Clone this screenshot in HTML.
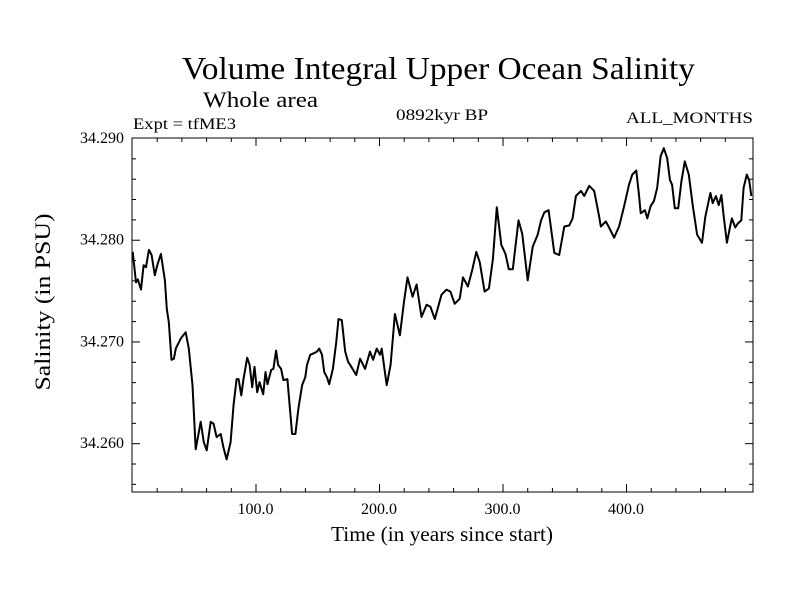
<!DOCTYPE html>
<html><head><meta charset="utf-8"><style>
html,body{margin:0;padding:0;background:#fff;}
svg{display:block;font-family:"Liberation Serif",serif;}
</style></head><body>
<svg id="chart" width="800" height="600" viewBox="0 0 800 600" xmlns="http://www.w3.org/2000/svg">
<rect x="0" y="0" width="800" height="600" fill="#fff"/>
<text x="182" y="79" font-size="32" textLength="513" lengthAdjust="spacingAndGlyphs">Volume Integral Upper Ocean Salinity</text>
<text x="203" y="107" font-size="22" textLength="115" lengthAdjust="spacingAndGlyphs">Whole area</text>
<text x="133" y="129" font-size="16" textLength="103" lengthAdjust="spacingAndGlyphs">Expt = tfME3</text>
<text x="396" y="120" font-size="16" textLength="92" lengthAdjust="spacingAndGlyphs">0892kyr BP</text>
<text x="626" y="123" font-size="16" textLength="127" lengthAdjust="spacingAndGlyphs">ALL_MONTHS</text>
<text transform="translate(50,302) rotate(-90)" text-anchor="middle" font-size="22" textLength="177" lengthAdjust="spacingAndGlyphs">Salinity (in PSU)</text>
<text x="442" y="541" text-anchor="middle" font-size="21" textLength="222" lengthAdjust="spacingAndGlyphs">Time (in years since start)</text>
<g id="axes"></g>
<path id="series" fill="none" stroke="#000" stroke-width="2" stroke-linejoin="round"/>
<rect x="132" y="138" width="621" height="354" fill="none" stroke="#000" stroke-width="1"/>
</svg>
<script>
const years = [0.6,3.2,4.8,7.3,9.4,11.3,13.7,15.9,18.5,20.7,23.4,26.6,28.2,29.8,32.0,33.9,35.5,39.5,43.5,46.0,49.0,51.6,55.6,58.1,60.5,63.7,66.1,68.5,71.8,74.0,76.6,79.8,82.3,84.7,86.3,88.5,90.3,93.3,95.2,97.3,99.2,101.4,103.2,106.2,108.1,109.7,112.7,114.5,116.7,118.3,120.7,122.6,125.8,129.6,132.3,134.7,137.7,140.3,141.7,144.4,146.5,149.8,151.6,153.8,155.6,157.8,159.7,162.7,165.3,167.2,169.9,172.6,175.0,176.6,181.5,184.7,188.7,192.7,195.2,198.1,200.8,202.2,206.2,209.4,212.9,216.9,220.2,223.1,227.2,230.4,234.4,238.5,241.7,245.2,250.6,254.6,257.8,261.3,265.3,268.0,272.0,275.6,278.8,281.5,285.5,289.0,292.2,295.4,299.0,302.4,305.1,308.3,312.9,315.9,320.4,324.4,328.5,331.2,333.9,337.3,338.5,341.9,345.9,350.0,354.0,356.7,359.4,363.5,366.1,370.2,374.2,378.2,379.6,383.6,386.3,390.3,394.4,398.4,402.4,405.1,408.3,410.5,411.9,415.3,417.2,419.9,422.6,425.2,428.0,430.6,433.3,435.5,437.3,439.5,442.2,444.9,447.6,450.8,454.0,457.5,461.5,464.3,468.3,470.2,472.8,475.0,477.2,479.0,481.7,484.4,485.7,488.5,490.6,493.3,495.2,497.8,499.8,501.4];
const salinity = [34.2788,34.2758,34.2761,34.2751,34.2775,34.2773,34.2790,34.2785,34.2765,34.2776,34.2786,34.2760,34.2732,34.2719,34.2682,34.2683,34.2693,34.2703,34.2709,34.2693,34.2657,34.2594,34.2621,34.2601,34.2593,34.2621,34.2619,34.2606,34.2609,34.2596,34.2584,34.2601,34.2638,34.2663,34.2663,34.2647,34.2663,34.2684,34.2677,34.2655,34.2675,34.2650,34.2660,34.2648,34.2670,34.2658,34.2672,34.2673,34.2691,34.2677,34.2673,34.2662,34.2663,34.2609,34.2609,34.2634,34.2657,34.2665,34.2677,34.2687,34.2688,34.2690,34.2693,34.2687,34.2670,34.2665,34.2658,34.2673,34.2699,34.2722,34.2721,34.2690,34.2680,34.2677,34.2667,34.2683,34.2673,34.2690,34.2682,34.2693,34.2687,34.2693,34.2657,34.2677,34.2727,34.2706,34.2739,34.2763,34.2744,34.2756,34.2724,34.2736,34.2734,34.2722,34.2746,34.2751,34.2749,34.2737,34.2742,34.2763,34.2754,34.2771,34.2788,34.2778,34.2749,34.2752,34.2781,34.2832,34.2795,34.2786,34.2771,34.2771,34.2819,34.2806,34.2760,34.2793,34.2805,34.2819,34.2827,34.2829,34.2818,34.2787,34.2785,34.2813,34.2814,34.2821,34.2843,34.2848,34.2843,34.2853,34.2848,34.2823,34.2813,34.2818,34.2812,34.2802,34.2813,34.2833,34.2854,34.2864,34.2868,34.2844,34.2826,34.2829,34.2821,34.2833,34.2838,34.2851,34.2882,34.2890,34.2880,34.2859,34.2854,34.2831,34.2831,34.2858,34.2877,34.2864,34.2834,34.2805,34.2797,34.2823,34.2846,34.2836,34.2843,34.2834,34.2844,34.2824,34.2797,34.2814,34.2821,34.2812,34.2816,34.2819,34.2851,34.2864,34.2858,34.2843];
const xTickValues = [100,200,300,400];
const xTickLabels = ["100.0","200.0","300.0","400.0"];
const yTickValues = [34.26,34.27,34.28,34.29];
const yTickLabels = ["34.260","34.270","34.280","34.290"];

const L=132,R=753,T=138,B=492;
const X0=0,X1=502.8,Y0=34.2552,Y1=34.29;
function sx(v){return L+(v-X0)/(X1-X0)*(R-L);}
function sy(v){return B-(v-Y0)/(Y1-Y0)*(B-T);}
const NS="http://www.w3.org/2000/svg";
const axes=document.getElementById('axes');
function line(x1,y1,x2,y2,name){
  const l=document.createElementNS(NS,'line');
  l.setAttribute('x1',x1);l.setAttribute('y1',y1);l.setAttribute('x2',x2);l.setAttribute('y2',y2);
  l.setAttribute('stroke','#000');l.setAttribute('stroke-width','1');
  
  
  axes.appendChild(l);
}
function text(x,y,s,anchor,name){
  const t=document.createElementNS(NS,'text');
  t.setAttribute('x',x);t.setAttribute('y',y);t.setAttribute('font-size','16');
  t.setAttribute('text-anchor',anchor);t.textContent=s;
  
  
  axes.appendChild(t);
}
for(let v=20;v<X1-5;v+=20){
  const x=sx(v)+0.5, major=(v%100===0), len=major?8:4;
  line(x,B,x,B-len,'x-tick');
  line(x,T,x,T+len,'x-tick-top');
}
xTickValues.forEach((v,i)=>text(sx(v),514,xTickLabels[i],'middle','x-tick-label'));
for(let k=0;k<=17;k++){
  const v=34.256+k*0.002; if(v>Y1-1e-4) break;
  const y=sy(v)+0.5, major=Math.abs(v*1000-Math.round(v*100)*10)<1e-6, len=major?8:4;
  line(L,y,L+len,y,'y-tick');
  line(R,y,R-len,y,'y-tick-right');
}
yTickValues.forEach((v,i)=>text(124,sy(v)+5,yTickLabels[i],'end','y-tick-label'));
let d='';
years.forEach((v,i)=>{d+=(i?'L':'M')+sx(v).toFixed(1)+','+sy(salinity[i]).toFixed(1);});
document.getElementById('series').setAttribute('d',d);
</script>
</body></html>
